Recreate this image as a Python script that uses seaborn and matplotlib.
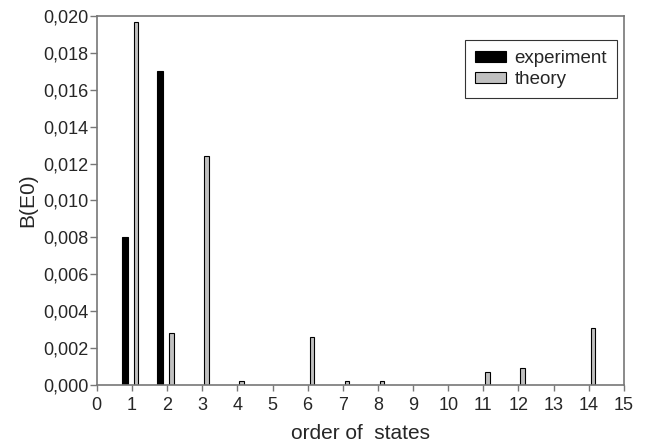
import numpy as np
import seaborn as sns
import matplotlib.pyplot as plt

# data
exp_states = [1, 2]
exp_values = [0.0080, 0.0170]
theory_states = [1, 2, 3, 4, 6, 7, 8, 11, 12, 14]
theory_values = [0.0197, 0.0028, 0.0124, 0.0002, 0.0026, 0.0002, 0.0002, 0.0007, 0.0009, 0.0031]
x_ticks = list(range(0, 16))
y_ticks = [0.000, 0.002, 0.004, 0.006, 0.008, 0.010, 0.012, 0.014, 0.016, 0.018, 0.020]
y_tick_labels = ["0,000", "0,002", "0,004", "0,006", "0,008", "0,010",
                 "0,012", "0,014", "0,016", "0,018", "0,020"]

sns.set_style("ticks")
plt.rcParams["font.family"] = ["Liberation Sans", "DejaVu Sans"]

fig = plt.figure(figsize=(6.54, 4.48), dpi=100)
ax = fig.add_axes([0.148, 0.141, 0.806, 0.823])

sns.barplot(x=np.array(exp_states) - 0.2, y=exp_values, native_scale=True,
            width=0.16, color="black", saturation=1, edgecolor="black",
            linewidth=0.8, ax=ax, label="experiment")
sns.barplot(x=np.array(theory_states) + 0.12, y=theory_values, native_scale=True,
            width=0.13, color="#c0c0c0", saturation=1, edgecolor="black",
            linewidth=0.8, ax=ax, label="theory")

ax.set_xlim(0, 15)
ax.set_ylim(0, 0.020)
ax.set_xticks(x_ticks)
ax.set_xticklabels([str(t) for t in x_ticks])
ax.set_yticks(y_ticks)
ax.set_yticklabels(y_tick_labels)
ax.tick_params(labelsize=13, color="#777777", width=1)
ax.tick_params(axis="x", length=4.5, pad=4.5)
ax.tick_params(axis="y", length=5, pad=1)

for side in ["top", "right", "left", "bottom"]:
    ax.spines[side].set_visible(True)
    ax.spines[side].set_color("#777777")
    ax.spines[side].set_linewidth(1.2)

ax.set_xlabel("order of  states", fontsize=15, labelpad=7)
ax.set_ylabel("B(E0)", fontsize=15, labelpad=4)

leg = ax.legend(loc="upper right", bbox_to_anchor=(0.987, 0.935), fontsize=13.5,
                frameon=True, fancybox=False, edgecolor="black",
                handlelength=1.65, handleheight=0.5, handletextpad=0.45,
                borderpad=0.55, labelspacing=0.2, borderaxespad=0)
leg.get_frame().set_linewidth(0.8)

fig.savefig("out.png", dpi=100)
plt.close(fig)
